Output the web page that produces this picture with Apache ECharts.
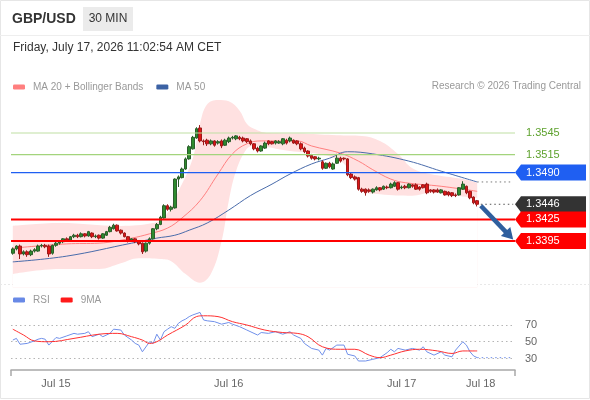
<!DOCTYPE html>
<html><head><meta charset="utf-8">
<script src="https://cdn.jsdelivr.net/npm/echarts@6/dist/echarts.min.js"></script>
<style>html,body{margin:0;padding:0;background:#fff}#c{width:590px;height:400px}</style>
</head><body><div id="c"></div>
<script>
// ---- data ----
const slotCount = 140; // half-hour slots on the x axis (last ones empty)
const categories = Array.from({length: slotCount}, (_, i) => 'S' + i);
const tickIndex = [12, 60, 108, 130];
const tickText = ['Jul 15', 'Jul 16', 'Jul 17', 'Jul 18'];

// [open, close, low, high]
const candles = [
[1.3378,1.3384,1.3376,1.3386],[1.3384,1.3388,1.3382,1.3389],[1.3388,1.3377,1.3370,1.3390],[1.3377,1.3380,1.3375,1.3382],
[1.3380,1.3376,1.3373,1.3382],[1.3376,1.3381,1.3374,1.3383],[1.3381,1.3383,1.3379,1.3385],[1.3381,1.3388,1.3380,1.3390],
[1.3388,1.3389,1.3386,1.3391],[1.3389,1.3387,1.3385,1.3391],[1.3388,1.3377,1.3373,1.3390],[1.3378,1.3389,1.3376,1.3390],
[1.3389,1.3392,1.3387,1.3394],[1.3392,1.3394,1.3390,1.3395],[1.3394,1.3398,1.3392,1.3399],[1.3398,1.3396,1.3394,1.3400],
[1.3396,1.3401,1.3395,1.3402],[1.3401,1.3403,1.3399,1.3405],[1.3403,1.3401,1.3399,1.3405],[1.3401,1.3405,1.3400,1.3407],
[1.3405,1.3402,1.3400,1.3406],[1.3402,1.3408,1.3401,1.3409],[1.3406,1.3401,1.3399,1.3407],[1.3401,1.3402,1.3399,1.3404],
[1.3403,1.3399,1.3397,1.3404],[1.3399,1.3405,1.3398,1.3406],[1.3403,1.3408,1.3402,1.3409],[1.3408,1.3414,1.3407,1.3416],
[1.3412,1.3417,1.3411,1.3419],[1.3417,1.3409,1.3408,1.3418],[1.3410,1.3406,1.3404,1.3411],[1.3406,1.3401,1.3400,1.3407],
[1.3401,1.3395,1.3393,1.3402],[1.3396,1.3398,1.3394,1.3399],[1.3398,1.3394,1.3392,1.3399],[1.3395,1.3391,1.3389,1.3396],
[1.3392,1.3380,1.3377,1.3393],[1.3381,1.3392,1.3379,1.3393],[1.3392,1.3398,1.3390,1.3400],[1.3398,1.3412,1.3397,1.3413],
[1.3412,1.3418,1.3410,1.3420],[1.3418,1.3428,1.3417,1.3430],[1.3427,1.3444,1.3426,1.3446],[1.3444,1.3439,1.3437,1.3446],
[1.3439,1.3442,1.3436,1.3444],[1.3441,1.3481,1.3440,1.3482],[1.3481,1.3484,1.3470,1.3486],[1.3483,1.3495,1.3482,1.3497],
[1.3495,1.3509,1.3494,1.3511],[1.3509,1.3526,1.3508,1.3528],[1.3523,1.3539,1.3522,1.3541],[1.3538,1.3551,1.3537,1.3553],
[1.3552,1.3534,1.3532,1.3556],[1.3534,1.3533,1.3528,1.3536],[1.3535,1.3530,1.3527,1.3537],[1.3530,1.3534,1.3528,1.3536],
[1.3534,1.3528,1.3526,1.3535],[1.3531,1.3533,1.3529,1.3535],[1.3534,1.3527,1.3524,1.3536],[1.3528,1.3535,1.3527,1.3537],
[1.3533,1.3538,1.3531,1.3540],[1.3538,1.3539,1.3536,1.3541],[1.3537,1.3541,1.3535,1.3542],[1.3539,1.3537,1.3535,1.3541],
[1.3538,1.3534,1.3532,1.3540],[1.3537,1.3533,1.3531,1.3538],[1.3534,1.3530,1.3528,1.3536],[1.3530,1.3523,1.3521,1.3531],
[1.3524,1.3520,1.3518,1.3526],[1.3520,1.3527,1.3519,1.3528],[1.3524,1.3531,1.3523,1.3533],[1.3534,1.3530,1.3528,1.3535],
[1.3533,1.3530,1.3529,1.3534],[1.3531,1.3534,1.3529,1.3535],[1.3531,1.3533,1.3530,1.3535],[1.3530,1.3537,1.3528,1.3538],
[1.3535,1.3531,1.3529,1.3537],[1.3534,1.3538,1.3532,1.3540],[1.3535,1.3531,1.3530,1.3536],[1.3534,1.3530,1.3528,1.3535],
[1.3530,1.3523,1.3521,1.3532],[1.3524,1.3519,1.3517,1.3526],[1.3520,1.3513,1.3511,1.3521],[1.3514,1.3510,1.3508,1.3516],
[1.3512,1.3509,1.3507,1.3513],[1.3509,1.3510,1.3507,1.3512],[1.3505,1.3496,1.3494,1.3507],[1.3496,1.3503,1.3495,1.3504],
[1.3503,1.3498,1.3496,1.3505],[1.3495,1.3502,1.3494,1.3504],[1.3503,1.3510,1.3502,1.3516],[1.3510,1.3506,1.3504,1.3512],
[1.3510,1.3509,1.3507,1.3511],[1.3509,1.3487,1.3485,1.3510],[1.3488,1.3483,1.3481,1.3490],[1.3484,1.3481,1.3479,1.3486],
[1.3483,1.3467,1.3465,1.3484],[1.3467,1.3464,1.3462,1.3469],[1.3467,1.3462,1.3458,1.3468],[1.3466,1.3464,1.3462,1.3468],
[1.3463,1.3467,1.3461,1.3468],[1.3466,1.3469,1.3465,1.3471],[1.3469,1.3466,1.3464,1.3470],[1.3467,1.3471,1.3466,1.3472],
[1.3470,1.3469,1.3467,1.3472],[1.3469,1.3474,1.3468,1.3476],[1.3471,1.3476,1.3470,1.3478],[1.3476,1.3467,1.3465,1.3477],
[1.3469,1.3470,1.3467,1.3472],[1.3471,1.3469,1.3467,1.3473],[1.3469,1.3474,1.3468,1.3475],[1.3473,1.3471,1.3469,1.3474],
[1.3473,1.3467,1.3466,1.3475],[1.3470,1.3467,1.3465,1.3471],[1.3473,1.3469,1.3468,1.3474],[1.3474,1.3462,1.3460,1.3476],
[1.3466,1.3464,1.3462,1.3467],[1.3466,1.3463,1.3461,1.3467],[1.3466,1.3463,1.3462,1.3468],[1.3462,1.3466,1.3461,1.3467],
[1.3464,1.3459,1.3458,1.3465],[1.3463,1.3459,1.3457,1.3464],[1.3462,1.3458,1.3456,1.3463],[1.3459,1.3458,1.3456,1.3461],
[1.3459,1.3469,1.3458,1.3470],[1.3467,1.3474,1.3466,1.3478],[1.3471,1.3462,1.3460,1.3472],[1.3464,1.3455,1.3453,1.3465],
[1.3456,1.3448,1.3446,1.3457],[1.3451,1.3446,1.3443,1.3452]
];

// indicator readings [slot index, value]
const ma20 = [[0,1.3385],[15,1.3391],[24,1.3392],[33,1.3399],[38,1.3405],[43,1.3413],[47,1.3427],[52,1.3451],[57,1.3488],[61,1.3516],[65,1.3530],[69,1.3534],[79,1.3534],[83,1.3527],[91,1.3517],[96,1.3506],[100,1.3494],[105,1.3481],[109,1.3476],[119,1.3471],[129,1.3464]];
const ma50 = [[0,1.3366],[15,1.3374],[33,1.3392],[40,1.3399],[45,1.3403],[49,1.3410],[54,1.3420],[60,1.3438],[66,1.3458],[72,1.3474],[77,1.3488],[83,1.3502],[88,1.3510],[93,1.3519],[100,1.3516],[110,1.3506],[119,1.3492],[129,1.3477]];
const bandUpper = [[0,1.3416],[13,1.3420],[30,1.3416],[39,1.3420],[42,1.3427],[46,1.3464],[50,1.3510],[52,1.3558],[54,1.3585],[57,1.3591],[60,1.3589],[63,1.3576],[65,1.3558],[67,1.3551],[71,1.3545],[81,1.3544],[90,1.3542],[97,1.3541],[102,1.3534],[107,1.3516],[111,1.3496],[116,1.3488],[125,1.3481],[129,1.3476]];
const bandLower = [[0,1.3349],[13,1.3356],[24,1.3356],[30,1.3364],[35,1.3371],[41,1.3370],[44,1.3367],[48,1.3349],[52,1.3337],[55,1.3349],[58,1.3395],[60,1.3451],[62,1.3492],[65,1.3523],[67,1.3527],[77,1.3520],[85,1.3516],[91,1.3506],[94,1.3489],[97,1.3464],[102,1.3460],[111,1.3458],[116,1.3462],[123,1.3458],[129,1.3455]];

const rsi = [[0,52],[1,54],[2,47],[4,48],[6,51],[7,53],[8,54],[9,53],[10,46],[12,55],[13,54],[15,57],[17,60],[18,59],[20,60],[21,62],[22,56],[24,59],[25,56],[27,60],[28,65],[30,64],[31,58],[33,52],[34,48],[35,46],[36,38],[38,50],[39,48],[40,59],[41,52],[42,62],[43,65],[44,68],[45,66],[46,72],[47,75],[48,77],[49,80],[50,82],[52,85],[53,76],[54,75],[56,74],[58,71],[60,73],[61,71],[63,68],[65,64],[68,58],[69,61],[71,60],[73,62],[75,59],[77,62],[78,58],[80,54],[81,48],[83,42],[85,40],[86,34],[87,42],[88,40],[90,46],[92,46],[93,35],[95,33],[96,27],[98,27],[100,29],[102,31],[104,37],[105,41],[106,38],[107,42],[109,40],[111,42],[113,40],[114,44],[115,38],[117,34],[119,38],[120,34],[122,32],[123,40],[125,50],[126,46],[127,38],[128,33],[129,31]];
const rsiMA9 = [[0,65],[3,58],[6,51],[10,50],[17,54],[24,59],[29,60],[33,56],[36,52],[38,48],[40,50],[43,58],[48,70],[51,80],[53,81],[57,80],[61,74],[65,70],[70,64],[75,61],[79,60],[82,56],[86,44],[91,41],[95,41],[99,34],[102,31],[105,34],[109,39],[113,41],[118,39],[122,36],[125,39],[129,39]];

const levelValues = [1.3545, 1.3515, 1.3490, 1.3425, 1.3395];
const rsiLevels = [70, 50, 30];
const arrowFrom = [130, 1.3444];
const arrowTo = [138.6, 1.3397];

// ---- chart ----
const FONT = '"Liberation Sans", Arial, Helvetica, sans-serif';
const lastIdx = candles.length - 1;
const lastClose = candles[lastIdx][1];
const lastSlot = slotCount - 1;
const ma50Last = ma50[ma50.length - 1];
const rsiLast = rsi[rsi.length - 1];

const levelLineStyles = [
  {stroke:'#bfe0a3', lineWidth:1.2},
  {stroke:'#a3d47c', lineWidth:1.2},
  {stroke:'#1f5ff2', lineWidth:1.2},
  {stroke:'#ff0000', lineWidth:2},
  {stroke:'#ff0000', lineWidth:2}
];

const chart = echarts.init(document.getElementById('c'), null, {renderer:'canvas'});
const option = {
  animation: false,
  textStyle: {fontFamily: FONT},
  grid: [
    {left: 11, right: 75, top: 89.8, height: 198},
    {left: 11, right: 75, top: 311.6, height: 58.6}
  ],
  xAxis: [
    {type:'category', data: categories, gridIndex:0, show:false, boundaryGap:true},
    {type:'category', data: categories, gridIndex:1, boundaryGap:true,
      axisLine:{lineStyle:{color:'#a8a8a8', width:1.5}},
      axisTick:{show:false}, splitLine:{show:false},
      axisLabel:{
        interval: (i) => tickIndex.indexOf(i) >= 0,
        formatter: (v, i) => { const k = tickIndex.indexOf(i); return k >= 0 ? tickText[k] : ''; },
        color:'#666', fontSize:11, margin:8, fontFamily: FONT
      }}
  ],
  yAxis: [
    {type:'value', gridIndex:0, min:1.3330, max:1.3605, show:false},
    {type:'value', gridIndex:1, min:16, max:86, show:false}
  ],
  legend: [
    {left: 8, top: 77, itemWidth: 12, itemHeight: 5, itemGap: 13, icon: 'roundRect',
      textStyle:{color:'#999', fontSize:10, fontFamily: FONT, padding:[0,0,0,3]},
      data: ['MA 20 + Bollinger Bands', 'MA 50'], selectedMode: false},
    {left: 8, top: 290, itemWidth: 12, itemHeight: 5, itemGap: 11, icon: 'roundRect',
      textStyle:{color:'#999', fontSize:10, fontFamily: FONT, padding:[0,0,0,3]},
      data: ['RSI', '9MA'], selectedMode: false}
  ],
  series: [
    {name:'bandUpper', type:'line', xAxisIndex:0, yAxisIndex:0, data: bandUpper, smooth:0.4,
      symbol:'none', silent:true, z:1, lineStyle:{width:0, opacity:0},
      areaStyle:{color:'#ffe1e1', opacity:1, origin:'start'}},
    {name:'bandLower', type:'line', xAxisIndex:0, yAxisIndex:0, data: bandLower, smooth:0.4,
      symbol:'none', silent:true, z:2, lineStyle:{width:0, opacity:0},
      areaStyle:{color:'#ffffff', opacity:1, origin:'start'}},
    {name:'MA 20 + Bollinger Bands', type:'line', xAxisIndex:0, yAxisIndex:0, data: ma20, smooth:0.4,
      symbol:'none', z:3, itemStyle:{color:'#ff7f7f'}, lineStyle:{color:'#ff8080', width:1}},
    {name:'MA 50', type:'line', xAxisIndex:0, yAxisIndex:0, data: ma50, smooth:0.4,
      symbol:'none', z:3, itemStyle:{color:'#3c62a4'}, lineStyle:{color:'#4a6cab', width:1}},
    {name:'ma50Stub', type:'line', xAxisIndex:0, yAxisIndex:0,
      data: [[ma50Last[0], ma50Last[1]], [lastSlot, ma50Last[1]]],
      symbol:'none', z:3, lineStyle:{color:'#777', width:1, type:[1.5,3]}},
    {name:'lastStub', type:'line', xAxisIndex:0, yAxisIndex:0,
      data: [[lastIdx + 1, lastClose], [lastSlot, lastClose]],
      symbol:'none', z:3, lineStyle:{color:'#555', width:1, type:[1.5,3]}},
    {name:'GBP/USD', type:'candlestick', xAxisIndex:0, yAxisIndex:0, data: candles, z:5,
      barWidth: 3,
      itemStyle:{color:'#2e8b2e', color0:'#dd1515', borderColor:'#2b5e2b', borderColor0:'#9c1a1a', borderWidth:1}},
    {name:'RSI', type:'line', xAxisIndex:1, yAxisIndex:1, data: rsi, symbol:'none', z:4,
      itemStyle:{color:'#6889e6'}, lineStyle:{color:'#7090ea', width:1},
      markLine:{
        silent:true, symbol:['none','none'], animation:false, z:1,
        lineStyle:{color:'#b5b5b5', type:[1.5,3], width:1},
        label:{show:true, position:'end', distance:10, color:'#666', fontSize:11, fontFamily: FONT,
          formatter: (p) => String(p.value)},
        data: rsiLevels.map(v => ({yAxis: v}))
      }},
    {name:'9MA', type:'line', xAxisIndex:1, yAxisIndex:1, data: rsiMA9, smooth:0.4, symbol:'none', z:4,
      itemStyle:{color:'#ff1a1a'}, lineStyle:{color:'#ff3030', width:1}},
    {name:'rsiStub', type:'line', xAxisIndex:1, yAxisIndex:1,
      data: [[rsiLast[0], rsiLast[1]], [lastSlot, rsiLast[1]]],
      symbol:'none', z:4, lineStyle:{color:'#7090ea', width:1, type:[1.5,3]}}
  ]
};
chart.setOption(option);

// ---- annotations placed through the chart's own scales ----
const gridLeft = 11;
const gridRight = 515;
const boxRight = 586;
const labelSpecs = [
  {v: levelValues[0], kind:'text', color:'#5ea22e'},
  {v: levelValues[1], kind:'text', color:'#5ea22e'},
  {v: levelValues[2], kind:'box', color:'#1f5ff2'},
  {v: lastClose,      kind:'box', color:'#333333'},
  {v: levelValues[3], kind:'box', color:'#ff0000'},
  {v: levelValues[4], kind:'box', color:'#ff0000'}
];
const g = [];
g.push({type:'rect', shape:{x:0.5, y:0.5, width:589, height:398}, style:{fill:null, stroke:'#e6e6e6', lineWidth:1}, silent:true, z:-10});
g.push({type:'line', shape:{x1:0, y1:35.5, x2:590, y2:35.5}, style:{stroke:'#eeeeee', lineWidth:1}, silent:true});
g.push({type:'text', style:{text:'GBP/USD', x:12, y:19, verticalAlign:'middle', fill:'#333', font:'bold 14px ' + FONT}});
g.push({type:'rect', shape:{x:83, y:7, width:50, height:24}, style:{fill:'#ebebeb'}});
g.push({type:'text', style:{text:'30 MIN', x:108, y:19, align:'center', verticalAlign:'middle', fill:'#333', font:'12px ' + FONT}});
g.push({type:'text', style:{text:'Friday, July 17, 2026 11:02:54 AM CET', x:13, y:48, verticalAlign:'middle', fill:'#333', font:'12px ' + FONT}});
g.push({type:'text', style:{text:'Research \u00a9 2026 Trading Central', x:581, y:86, align:'right', verticalAlign:'middle', fill:'#999', font:'10px ' + FONT}});
g.push({type:'line', shape:{x1:0, y1:284.5, x2:590, y2:284.5}, style:{stroke:'#e8e8e8', lineWidth:1, lineDash:[2,2]}, silent:true});
g.push({type:'line', shape:{x1:gridLeft, y1:370, x2:gridLeft, y2:376}, style:{stroke:'#a8a8a8', lineWidth:1.5}});
g.push({type:'line', shape:{x1:gridRight, y1:370, x2:gridRight, y2:376}, style:{stroke:'#a8a8a8', lineWidth:1.5}});

levelValues.forEach((v, k) => {
  const y = chart.convertToPixel({yAxisIndex:0}, v);
  g.push({type:'line', shape:{x1:gridLeft, y1:y, x2:gridRight, y2:y},
    style:Object.assign({}, levelLineStyles[k]), z:15, silent:true});
});

labelSpecs.forEach(s => {
  const y = chart.convertToPixel({yAxisIndex:0}, s.v);
  if (s.kind === 'box') {
    g.push({type:'polygon', shape:{points:[[gridRight, y],[gridRight+6, y-8],[boxRight, y-8],[boxRight, y+8],[gridRight+6, y+8]]},
      style:{fill:s.color}, z:20});
    g.push({type:'text', style:{text:s.v.toFixed(4), x:526, y:y, verticalAlign:'middle', fill:'#fff', font:'11px ' + FONT}, z:21});
  } else {
    g.push({type:'text', style:{text:s.v.toFixed(4), x:526, y:y, verticalAlign:'middle', fill:s.color, font:'11px ' + FONT}, z:21});
  }
});

const a0 = chart.convertToPixel({gridIndex:0}, arrowFrom);
const a1 = chart.convertToPixel({gridIndex:0}, arrowTo);
const dx = a1[0]-a0[0], dy = a1[1]-a0[1];
const len = Math.sqrt(dx*dx+dy*dy), ux = dx/len, uy = dy/len;
const headLen = 11, headW = 6.5;
const bx = a1[0]-ux*headLen, by = a1[1]-uy*headLen;
g.push({type:'line', shape:{x1:a0[0], y1:a0[1], x2:bx+ux*1, y2:by+uy*1}, style:{stroke:'#2f5f9e', lineWidth:4.5}, z:22});
g.push({type:'polygon', shape:{points:[[a1[0],a1[1]],[bx - uy*headW, by + ux*headW],[bx + uy*headW, by - ux*headW]]}, style:{fill:'#2f5f9e'}, z:22});

chart.setOption({graphic: g});
</script>
</body></html>
